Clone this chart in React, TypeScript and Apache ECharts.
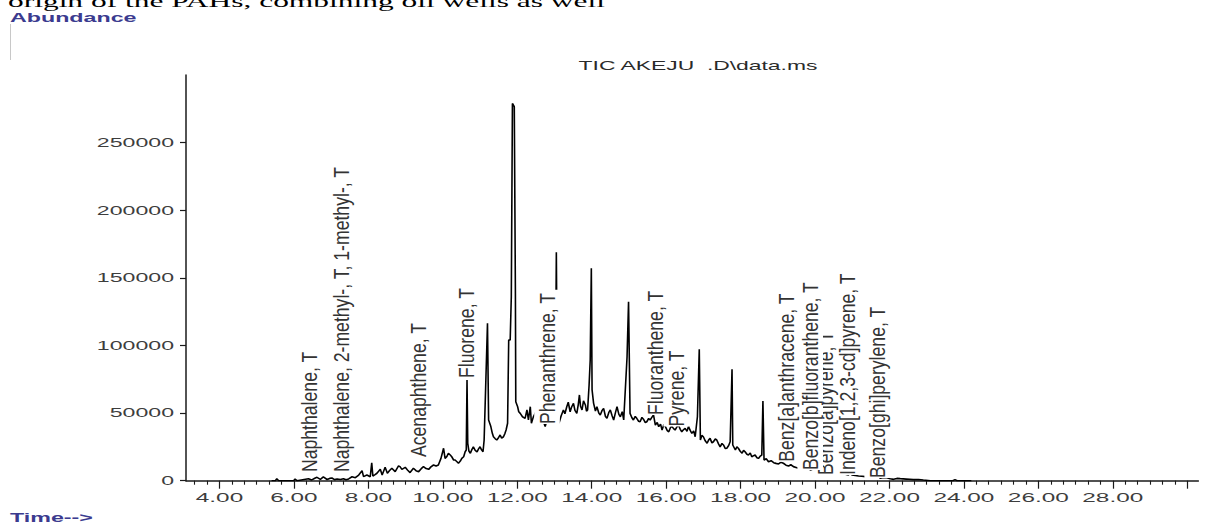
import React, { useEffect, useRef } from "react";
import * as echarts from "echarts";

// ---- chromatogram (TIC): retention time (min) / abundance ----
const retentionTimes = [
  5.4, 5.5, 5.54, 5.59, 5.99, 6.03, 6.08, 6.39, 6.48, 6.56, 6.62, 6.71, 6.79, 6.89, 6.96, 7.02, 7.09, 7.16, 7.25, 7.33,
  7.4, 7.47, 7.56, 7.65, 7.74, 7.83, 7.87, 7.96, 8.05, 8.09, 8.12, 8.18, 8.23, 8.32, 8.37, 8.45, 8.51, 8.57, 8.63, 8.72,
  8.81, 8.85, 8.9, 8.99, 9.05, 9.12, 9.21, 9.28, 9.35, 9.42, 9.48, 9.55, 9.62, 9.68, 9.75, 9.82, 9.88, 9.95, 10.02, 10.06,
  10.11, 10.15, 10.2, 10.24, 10.29, 10.33, 10.38, 10.42, 10.47, 10.51, 10.56, 10.6, 10.63, 10.65, 10.67, 10.7, 10.74, 10.78, 10.82, 10.87,
  10.92, 10.96, 11.0, 11.04, 11.08, 11.11, 11.15, 11.2, 11.23, 11.29, 11.33, 11.36, 11.41, 11.45, 11.5, 11.54, 11.58, 11.63, 11.67, 11.7,
  11.74, 11.77, 11.81, 11.84, 11.87, 11.92, 11.95, 11.96, 12.01, 12.04, 12.08, 12.14, 12.21, 12.26, 12.3, 12.35, 12.38, 12.43, 12.5, 12.57,
  12.64, 12.7, 12.75, 12.82, 12.9, 12.97, 13.02, 13.05, 13.08, 13.12, 13.18, 13.24, 13.28, 13.33, 13.37, 13.42, 13.46, 13.51, 13.55, 13.6,
  13.64, 13.67, 13.7, 13.74, 13.78, 13.83, 13.86, 13.89, 13.93, 13.96, 13.99, 14.01, 14.05, 14.1, 14.14, 14.19, 14.23, 14.28, 14.32, 14.37,
  14.41, 14.46, 14.5, 14.55, 14.59, 14.64, 14.68, 14.73, 14.77, 14.82, 14.86, 14.9, 14.95, 14.99, 15.03, 15.08, 15.12, 15.17, 15.21, 15.26,
  15.3, 15.35, 15.39, 15.44, 15.48, 15.53, 15.57, 15.62, 15.66, 15.71, 15.76, 15.8, 15.85, 15.89, 15.94, 15.98, 16.03, 16.07, 16.12, 16.16,
  16.2, 16.24, 16.29, 16.33, 16.38, 16.42, 16.47, 16.51, 16.56, 16.6, 16.65, 16.69, 16.74, 16.78, 16.84, 16.89, 16.92, 16.96, 17.0, 17.05,
  17.1, 17.14, 17.18, 17.23, 17.27, 17.32, 17.36, 17.41, 17.45, 17.5, 17.54, 17.59, 17.63, 17.68, 17.72, 17.77, 17.79, 17.86, 17.9, 17.94,
  17.99, 18.04, 18.08, 18.12, 18.17, 18.21, 18.26, 18.3, 18.35, 18.39, 18.44, 18.48, 18.53, 18.57, 18.6, 18.63, 18.69, 18.75, 18.82, 18.89,
  18.95, 19.02, 19.08, 19.15, 19.22, 19.29, 19.35, 19.42, 19.49, 19.56, 19.62, 19.69, 19.78, 19.83, 19.87, 19.94, 20.01, 20.08, 20.14, 20.19,
  20.23, 20.3, 20.36, 20.43, 20.5, 20.56, 20.63, 20.7, 20.77, 20.84, 20.9, 20.94, 20.99, 21.08, 21.17, 21.26, 21.35, 21.44, 21.53, 21.68,
  21.75, 21.84, 21.93, 22.02, 22.11, 22.2, 22.29, 22.45, 22.64, 22.78, 22.91, 23.1, 23.7, 23.76, 23.82, 24.2,
];
const abundances = [
  0, 0, 1500, 0, 0, 1200, 0, 1500, 600, 1800, 2500, 1000, 2800, 900, 1700, 2000, 800, 1200, 900, 1500,
  700, 1300, 2900, 2200, 4200, 7400, 3000, 4200, 2900, 13300, 3500, 4500, 5500, 8400, 4200, 9900, 5500, 7500, 9200, 6700,
  10900, 10400, 8400, 9900, 7900, 6000, 9200, 7400, 6700, 8900, 10400, 9000, 8400, 10200, 11600, 10800, 11600, 16500, 24000, 16500,
  18000, 20300, 19000, 17700, 15300, 15300, 14000, 12900, 14500, 16500, 17700, 21400, 22700, 74500, 27700, 22000, 20300, 23000, 25100, 22500,
  21400, 23500, 25100, 22800, 21400, 30100, 68300, 116400, 44900, 40000, 35000, 32500, 31000, 30100, 32000, 33800, 31500, 32500, 35000, 37500,
  42500, 104000, 104000, 136000, 279000, 276600, 138600, 58400, 54700, 51000, 49800, 47300, 46100, 52300, 44900, 54700, 42500, 47000, 51000, 46000,
  49000, 44000, 40000, 47000, 51000, 46000, 50000, 169000, 47000, 42500, 48000, 52300, 49500, 54700, 58000, 51000, 54500, 57200, 52000, 49800,
  56500, 63400, 55000, 52300, 59000, 56000, 51500, 52300, 70800, 89300, 157100, 67200, 57400, 51500, 54700, 50000, 48600, 52000, 53500, 47500,
  46100, 50500, 52300, 47800, 44900, 50500, 54700, 49000, 47300, 51000, 44900, 65800, 91700, 132400, 49800, 46500, 44900, 47500, 46100, 44000,
  43600, 46800, 45500, 43000, 43600, 46000, 44900, 47000, 48600, 41200, 43000, 40000, 41800, 37500, 41500, 40000, 37000, 36200, 39500, 40000,
  38500, 37500, 39800, 41200, 38000, 36200, 37800, 38700, 36500, 40000, 37000, 35000, 36800, 32500, 47300, 97200, 30100, 33500, 32500, 29500,
  27700, 30000, 31300, 28000, 28800, 30800, 30100, 27000, 25100, 27500, 26400, 23800, 24000, 26000, 28800, 82400, 26400, 22700, 25000, 24000,
  21800, 20300, 22500, 21400, 19500, 19000, 20500, 17700, 18500, 19000, 17000, 16500, 18200, 19000, 59000, 15300, 16200, 14000, 14800, 13300,
  12800, 12400, 13600, 12900, 11500, 10900, 11800, 10400, 9800, 9200, 9900, 8400, 10400, 15300, 7900, 8500, 6700, 7400, 7900, 16500,
  6700, 6200, 5900, 6500, 6700, 5600, 5000, 5800, 5500, 4600, 4200, 10400, 4200, 3900, 3500, 3300, 3000, 2800, 2500, 5500,
  1800, 2400, 2200, 1400, 1000, 1700, 1500, 1200, 800, 900, 500, 0, 0, 800, 0, 0,
];

// ---- compound annotations (text starts at this time / abundance) ----
const peakLabels = [
  "Naphthalene, T",
  "Naphthalene, 2-methyl-, T, 1-methyl-, T",
  "Acenaphthene, T",
  "Fluorene, T",
  "Phenanthrene, T",
  "Fluoranthene, T",
  "Pyrene, T",
  "Benz[a]anthracene, T",
  "Benzo[b]fluoranthene, T",
  "Benzo[a]pyrene, T",
  "Indeno[1,2,3-cd]pyrene, T",
  "Benzo[ghi]perylene, T",
];
const peakLabelTimes = [6.41, 7.27, 9.34, 10.63, 12.8, 15.71, 16.27, 19.24, 19.87, 20.27, 20.86, 21.67];
const peakLabelAbundances = [6400, 6400, 17500, 76000, 41900, 48600, 40000, 14000, 7900, 4200, 4200, 2000];

// ---- axes ----
const xTickLabels = [4, 6, 8, 10, 12, 14, 16, 18, 20, 22, 24, 26, 28];
const xMajorTicks = [4, 6, 8, 10, 12, 14, 16, 18, 20, 22, 24, 26, 28, 30];
const yTickLabels = [0, 50000, 100000, 150000, 200000, 250000];

const X_MIN = 3.1;
const X_MAX = 30.3;
const Y_MAX = 300000;

const xMinorTicks: number[] = [];
for (let k = 10; k <= 90; k++) {
  if (k % 6 !== 0) xMinorTicks.push(k / 3);
}

const AXIS_COLOR = "#1a1a1a";
const TICK_TEXT = "#3d3d3d";
const SANS = "'Liberation Sans', Arial, sans-serif";

export default function App() {
  const ref = useRef<HTMLDivElement | null>(null);

  useEffect(() => {
    if (!ref.current) return;
    const chart = echarts.init(ref.current, null, { renderer: "svg" });

    const option: any = {
      animation: false,
      backgroundColor: "#ffffff",
      grid: { left: 186, right: 19.6, top: 75, bottom: 42.3 },
      xAxis: [
        {
          type: "value",
          min: X_MIN,
          max: X_MAX,
          axisLine: { show: true, lineStyle: { color: AXIS_COLOR, width: 1.5 } },
          axisTick: { show: true, customValues: xMajorTicks, length: 8, lineStyle: { color: AXIS_COLOR, width: 1.2 } },
          axisLabel: { show: false },
          splitLine: { show: false },
        },
        {
          type: "value",
          min: X_MIN,
          max: X_MAX,
          position: "bottom",
          axisLine: { show: false },
          axisTick: { show: true, customValues: xMinorTicks, length: 4, lineStyle: { color: AXIS_COLOR, width: 1.1 } },
          axisLabel: { show: false },
          splitLine: { show: false },
        },
      ],
      yAxis: {
        type: "value",
        min: 0,
        max: Y_MAX,
        axisLine: { show: true, lineStyle: { color: AXIS_COLOR, width: 1.5 } },
        axisTick: { show: true, customValues: yTickLabels, length: 6, lineStyle: { color: AXIS_COLOR, width: 1.2 } },
        axisLabel: { show: false },
        splitLine: { show: false },
      },
      graphic: [
        {
          type: "text",
          x: 8,
          y: 0.5,
          scaleX: 1.85,
          style: {
            text: "origin of the PAHs, combining oil wells as well",
            fill: "#000",
            fontSize: 17,
            fontFamily: "'Liberation Serif', 'Times New Roman', serif",
            align: "left",
            verticalAlign: "middle",
          },
        },
        {
          type: "text",
          x: 10,
          y: 18,
          scaleX: 1.86,
          style: {
            text: "Abundance",
            fill: "#3b3b8f",
            fontSize: 12.5,
            fontWeight: "bold",
            fontFamily: SANS,
            align: "left",
            verticalAlign: "middle",
          },
        },
        {
          type: "line",
          shape: { x1: 10.5, y1: 24, x2: 10.5, y2: 60 },
          style: { stroke: "#c8c8c8", lineWidth: 1 },
        },
        {
          type: "text",
          x: 698,
          y: 66,
          scaleX: 1.83,
          style: {
            text: "TIC AKEJU  .D\\data.ms",
            fill: "#2a2a2a",
            fontSize: 12.5,
            fontFamily: SANS,
            align: "center",
            verticalAlign: "middle",
          },
        },
        {
          type: "text",
          x: 10,
          y: 518,
          scaleX: 1.86,
          style: {
            text: "Time-->",
            fill: "#3b3b8f",
            fontSize: 12.5,
            fontWeight: "bold",
            fontFamily: SANS,
            align: "left",
            verticalAlign: "middle",
          },
        },
      ],
      series: [
        {
          name: "TIC",
          type: "line",
          xAxisIndex: 0,
          yAxisIndex: 0,
          data: retentionTimes.map((t, i) => [t, abundances[i]]),
          showSymbol: false,
          symbol: "none",
          lineStyle: { color: "#000000", width: 1.6 },
          z: 2,
        },
        {
          name: "compounds",
          type: "custom",
          xAxisIndex: 0,
          yAxisIndex: 0,
          silent: true,
          z: 3,
          data: peakLabelTimes.map((t, i) => [t, peakLabelAbundances[i]]),
          renderItem: (params: any, api: any) => {
            const i = params.dataIndex;
            const p = api.coord([api.value(0), api.value(1)]);
            return {
              type: "text",
              x: p[0],
              y: p[1],
              rotation: Math.PI / 2,
              scaleX: 0.98,
              scaleY: 1.22,
              z2: 100 - i,
              style: {
                text: peakLabels[i],
                fill: "#333333",
                fontSize: 18,
                fontFamily: SANS,
                align: "left",
                verticalAlign: "middle",
                backgroundColor: "#ffffff",
                padding: [0, 3, 3, 0],
              },
            };
          },
        },
        {
          name: "xTickLabels",
          type: "custom",
          xAxisIndex: 0,
          yAxisIndex: 0,
          silent: true,
          z: 4,
          data: xTickLabels.map((v) => [v, 0]),
          renderItem: (params: any, api: any) => {
            const v = api.value(0);
            const p = api.coord([v, 0]);
            return {
              type: "text",
              x: p[0],
              y: p[1] + 17,
              scaleX: 1.95,
              style: {
                text: Number(v).toFixed(2),
                fill: TICK_TEXT,
                fontSize: 12.5,
                fontFamily: SANS,
                align: "center",
                verticalAlign: "middle",
              },
            };
          },
        },
        {
          name: "yTickLabels",
          type: "custom",
          xAxisIndex: 0,
          yAxisIndex: 0,
          silent: true,
          z: 4,
          data: yTickLabels.map((v) => [X_MIN, v]),
          renderItem: (params: any, api: any) => {
            const v = api.value(1);
            const p = api.coord([X_MIN, v]);
            return {
              type: "text",
              x: p[0] - 12,
              y: p[1],
              scaleX: 1.85,
              style: {
                text: String(v),
                fill: TICK_TEXT,
                fontSize: 12.5,
                fontFamily: SANS,
                align: "right",
                verticalAlign: "middle",
              },
            };
          },
        },
      ],
    };

    chart.setOption(option);
    return () => chart.dispose();
  }, []);

  return (
    <div
      ref={ref}
      style={{ position: "absolute", left: 0, top: 0, width: 1218, height: 523, background: "#fff" }}
    />
  );
}
